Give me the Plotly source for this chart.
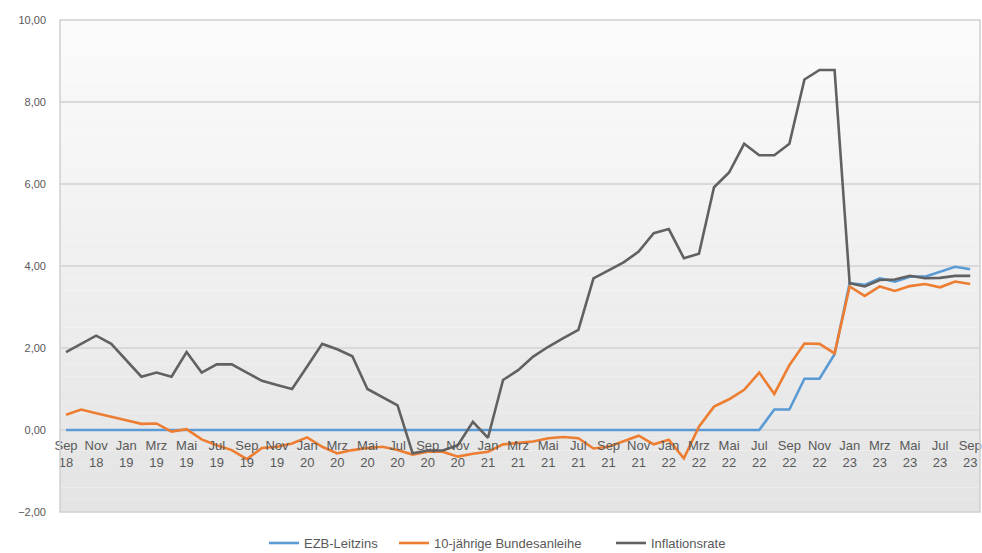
import plotly.graph_objects as go

months = ["Sep 18","Okt 18","Nov 18","Dez 18","Jan 19","Feb 19","Mrz 19","Apr 19","Mai 19","Jun 19",
          "Jul 19","Aug 19","Sep 19","Okt 19","Nov 19","Dez 19","Jan 20","Feb 20","Mrz 20","Apr 20",
          "Mai 20","Jun 20","Jul 20","Aug 20","Sep 20","Okt 20","Nov 20","Dez 20","Jan 21","Feb 21",
          "Mrz 21","Apr 21","Mai 21","Jun 21","Jul 21","Aug 21","Sep 21","Okt 21","Nov 21","Dez 21",
          "Jan 22","Feb 22","Mrz 22","Apr 22","Mai 22","Jun 22","Jul 22","Aug 22","Sep 22","Okt 22",
          "Nov 22","Dez 22","Jan 23","Feb 23","Mrz 23","Apr 23","Mai 23","Jun 23","Jul 23","Aug 23","Sep 23"]

ezb = [0.0]*47 + [0.5, 0.5, 1.25, 1.25, 1.85, 3.58, 3.54, 3.70, 3.62, 3.74, 3.74, 3.86, 3.98, 3.92]

bund = [0.37, 0.50, 0.41, 0.33, 0.24, 0.15, 0.16, -0.04, 0.02, -0.23,
        -0.37, -0.49, -0.71, -0.44, -0.41, -0.33, -0.18, -0.41, -0.57, -0.49,
        -0.44, -0.41, -0.49, -0.60, -0.53, -0.53, -0.65, -0.58, -0.53, -0.35,
        -0.32, -0.28, -0.20, -0.17, -0.20, -0.45, -0.41, -0.28, -0.14, -0.35,
        -0.24, -0.69, 0.08, 0.57, 0.75, 0.98, 1.40, 0.88, 1.58, 2.11,
        2.10, 1.87, 3.50, 3.27, 3.50, 3.39, 3.51, 3.56, 3.48, 3.62, 3.56]

infl = [1.9, 2.1, 2.3, 2.1, 1.7, 1.3, 1.4, 1.3, 1.9, 1.4,
        1.6, 1.6, 1.4, 1.2, 1.1, 1.0, 1.55, 2.1, 1.97, 1.8,
        1.0, 0.8, 0.6, -0.57, -0.5, -0.5, -0.37, 0.2, -0.19, 1.22,
        1.46, 1.79, 2.03, 2.24, 2.44, 3.7, 3.9, 4.09, 4.35, 4.8,
        4.9, 4.19, 4.3, 5.92, 6.28, 6.98, 6.7, 6.7, 6.98, 8.55,
        8.78, 8.78, 3.58, 3.5, 3.66, 3.67, 3.76, 3.7, 3.71, 3.76, 3.76]

x = list(range(len(months)))
tickvals = x[::2]
ticktext = [m.replace(" ", "<br>") for m in months[::2]]
yticks = [-2, 0, 2, 4, 6, 8, 10]

fig = go.Figure()
fig.add_trace(go.Scatter(x=x, y=ezb, name="EZB-Leitzins", mode="lines", legend="legend",
                         line=dict(color="#5b9bd5", width=2.6)))
fig.add_trace(go.Scatter(x=x, y=bund, name="10-jährige Bundesanleihe", mode="lines", legend="legend2",
                         line=dict(color="#ed7d31", width=2.6)))
fig.add_trace(go.Scatter(x=x, y=infl, name="Inflationsrate", mode="lines", legend="legend3",
                         line=dict(color="#616161", width=2.6)))

# vertical gradient background of the plot area
shapes = []
n = 40
for k in range(n):
    t = k / (n - 1)
    c = int(round(251 - (251 - 228) * t))
    shapes.append(dict(type="rect", xref="paper", yref="paper",
                       x0=0, x1=1, y0=1 - (k + 1) / n, y1=1 - k / n,
                       fillcolor=f"rgb({c},{c},{c})", line=dict(width=0), layer="below"))
shapes.append(dict(type="rect", xref="paper", yref="paper", x0=0, x1=1, y0=0, y1=1,
                   line=dict(color="#cfcfcf", width=1.5), fillcolor="rgba(0,0,0,0)", layer="above"))

def leg(xpx):
    return dict(orientation="h", xref="container", x=xpx / 982, xanchor="left",
                yref="container", y=0.018, yanchor="middle",
                font=dict(size=13, color="#595959"), itemwidth=30,
                bgcolor="rgba(0,0,0,0)")

ymin, ymax = -2, 10
fig.update_layout(
    width=982, height=553,
    margin=dict(l=60, r=2, t=20, b=41, autoexpand=False),
    paper_bgcolor="white",
    plot_bgcolor="rgba(0,0,0,0)",
    separators=",.",
    font=dict(family="Liberation Sans, Arial, sans-serif", size=11, color="#595959"),
    shapes=shapes,
    showlegend=True,
    legend=leg(264), legend2=leg(394), legend3=leg(611),
    xaxis=dict(range=[-0.4, 60.65], tickmode="array", tickvals=tickvals, ticktext=ticktext,
               showgrid=False, zeroline=False, showline=False, ticks="",
               anchor="free", position=(0 - ymin) / (ymax - ymin), ticklabelstandoff=6,
               ticklabeloverflow="allow",
               tickfont=dict(size=13, color="#595959")),
    yaxis=dict(range=[ymin, ymax], tickvals=yticks, tickformat=".2f",
               showgrid=True, gridcolor="#d9d9d9", gridwidth=1.5, zeroline=False,
               showline=False, ticks="", ticklabelstandoff=13,
               tickfont=dict(size=11, color="#595959")),
)

fig.write_html("out.html")
